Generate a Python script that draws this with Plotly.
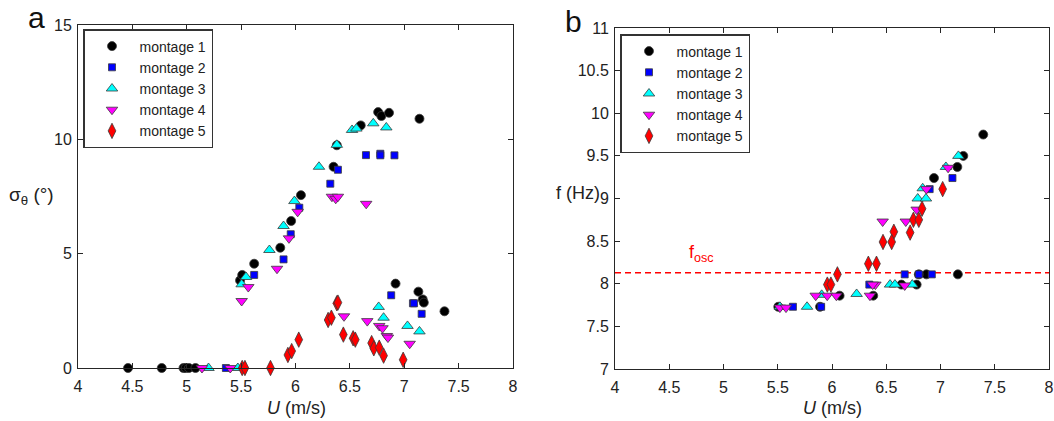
import plotly.graph_objects as go

# ---------------- data: panel a (sigma_theta vs U) ----------------
a1_x = [4.46, 4.77, 4.97, 4.99, 5.02, 5.08, 5.49, 5.51, 5.62, 5.86, 5.96, 6.05, 6.35, 6.38, 6.60, 6.76, 6.79, 6.86, 7.14, 6.92, 7.13, 7.17, 7.18, 7.37]
a1_y = [0, 0, 0, 0, 0, 0, 3.83, 4.07, 4.56, 5.26, 6.43, 7.56, 8.80, 9.74, 10.61, 11.19, 11.02, 11.16, 10.90, 3.69, 3.34, 3.00, 2.86, 2.48]
a2_x = [5.36, 5.62, 5.89, 5.956, 6.035, 6.32, 6.39, 6.648, 6.78, 6.78, 6.91, 6.88, 7.08, 7.09, 7.16]
a2_y = [0, 4.07, 4.75, 5.85, 7.01, 8.06, 8.67, 9.31, 9.37, 9.30, 9.30, 3.18, 2.83, 2.83, 2.37]
a3_x = [5.20, 5.47, 5.505, 5.545, 5.76, 5.89, 5.99, 6.216, 6.38, 6.52, 6.56, 6.715, 6.835, 6.765, 6.81, 7.03, 7.14]
a3_y = [0, 0, 3.66, 3.98, 5.16, 6.21, 7.30, 8.80, 9.76, 10.41, 10.47, 10.70, 10.52, 2.67, 2.20, 1.84, 1.60]
a4_x = [5.14, 5.40, 5.505, 5.566, 5.83, 5.94, 6.02, 6.335, 6.37, 6.39, 6.65, 6.446, 6.66, 6.77, 6.80, 6.84, 6.85, 7.05]
a4_y = [0, 0, 2.93, 3.54, 4.34, 5.67, 6.83, 7.49, 7.40, 7.49, 7.18, 2.26, 2.05, 1.84, 1.74, 1.40, 1.33, 1.06]
a5_x = [5.51, 5.535, 5.77, 5.93, 5.965, 6.03, 6.30, 6.33, 6.38, 6.39, 6.44, 6.53, 6.55, 6.70, 6.72, 6.77, 6.81, 6.99]
a5_y = [0, 0, 0, 0.57, 0.74, 1.24, 2.10, 2.20, 2.83, 2.86, 1.46, 1.30, 1.24, 1.09, 0.86, 0.89, 0.54, 0.36]

# ---------------- data: panel b (f vs U) ----------------
b1_x = [7.394, 7.21, 7.155, 6.94, 7.16, 6.87, 6.80, 6.78, 6.64, 6.38, 6.07, 5.89, 5.505]
b1_y = [9.75, 9.50, 9.37, 9.24, 8.11, 8.11, 8.11, 7.99, 7.99, 7.86, 7.86, 7.73, 7.73]
b2_x = [7.11, 6.90, 6.67, 6.80, 6.92, 6.344, 5.90, 5.64]
b2_y = [9.24, 9.11, 8.11, 8.11, 8.11, 7.99, 7.73, 7.73]
b3_x = [7.165, 7.05, 6.836, 6.79, 6.866, 6.535, 6.58, 6.74, 6.227, 5.905, 5.77, 5.52]
b3_y = [9.50, 9.37, 9.12, 9.00, 9.00, 7.99, 7.99, 7.99, 7.88, 7.87, 7.73, 7.73]
b4_x = [7.07, 6.87, 6.78, 6.68, 6.467, 6.67, 6.40, 6.375, 6.35, 5.85, 5.956, 6.04, 5.52, 5.576]
b4_y = [9.36, 9.11, 8.87, 8.73, 8.73, 7.98, 7.99, 7.99, 7.86, 7.86, 7.86, 7.86, 7.72, 7.72]
b5_x = [7.02, 6.83, 6.75, 6.80, 6.72, 6.57, 6.47, 6.55, 6.335, 6.41, 6.05, 5.957, 5.99]
b5_y = [9.11, 8.88, 8.75, 8.75, 8.60, 8.61, 8.49, 8.49, 8.235, 8.235, 8.11, 7.99, 7.99]

f_osc = 8.13
names = ["montage 1", "montage 2", "montage 3", "montage 4", "montage 5"]
colors = ["#000000", "#0000FF", "#00FFFF", "#FF00FF", "#FF0000"]
symbols = ["circle", "square", "triangle-up", "triangle-down", "diamond-tall"]
sizes = [9, 7, 10, 10, 11]

x_ticks = [4, 4.5, 5, 5.5, 6, 6.5, 7, 7.5, 8]
x_ticklabels = ["4", "4.5", "5", "5.5", "6", "6.5", "7", "7.5", "8"]
ya_ticks = [0, 5, 10, 15]
yb_ticks = [7, 7.5, 8, 8.5, 9, 9.5, 10, 10.5, 11]
yb_ticklabels = ["7", "7.5", "8", "8.5", "9", "9.5", "10", "10.5", "11"]

panel_a = [(a1_x, a1_y), (a2_x, a2_y), (a3_x, a3_y), (a4_x, a4_y), (a5_x, a5_y)]
panel_b = [(b1_x, b1_y), (b2_x, b2_y), (b3_x, b3_y), (b4_x, b4_y), (b5_x, b5_y)]

FONT = "Liberation Sans, Arial, sans-serif"
AX = "#262626"
W, H = 1054, 421

fig = go.Figure()


def add_series(data, xa, ya, leg):
    for (xs, ys), n, c, s, sz in zip(data, names, colors, symbols, sizes):
        fig.add_trace(go.Scatter(
            x=xs, y=ys, mode="markers", name=n, xaxis=xa, yaxis=ya, legend=leg,
            cliponaxis=False,
            marker=dict(symbol=s, size=sz, color=c, line=dict(color="#3a3a3a", width=0.8)),
        ))


add_series(panel_a, "x", "y", "legend")
fig.add_trace(go.Scatter(x=[4, 8], y=[f_osc, f_osc], mode="lines", xaxis="x2", yaxis="y2",
                         showlegend=False, line=dict(color="#FF0000", width=1.5, dash="6px,4px")))
add_series(panel_b, "x2", "y2", "legend2")

axis_common = dict(showline=True, linecolor=AX, linewidth=1, mirror="ticks", ticks="inside",
                   ticklen=5, tickcolor=AX, showgrid=False, zeroline=False, automargin=False,
                   tickfont=dict(family=FONT, size=16, color="#222"))


def px_x(p):
    return p / W


def px_y(p):
    return (H - p) / H


def ann(text, x, y, size, color="#222", xref="paper", yref="paper"):
    return dict(text=text, x=x, y=y, xref=xref, yref=yref, xanchor="center", yanchor="middle",
                showarrow=False, font=dict(family=FONT, size=size, color=color))


legend_common = dict(xanchor="left", yanchor="top", bgcolor="white", bordercolor="#333333", borderwidth=1.5,
                     itemwidth=45, font=dict(family=FONT, size=14, color="#222"))

fig.update_layout(
    width=W, height=H,
    margin=dict(l=0, r=0, t=0, b=0, pad=0),
    paper_bgcolor="white", plot_bgcolor="white",
    font=dict(family=FONT, size=15, color="#222"),
    xaxis=dict(domain=[px_x(78), px_x(513)], range=[4, 8], tickvals=x_ticks, ticktext=x_ticklabels,
               anchor="y", ticklabelstandoff=4, **axis_common),
    yaxis=dict(domain=[px_y(368), px_y(25)], range=[0, 15], tickvals=ya_ticks, anchor="x",
               ticklabelstandoff=2, **axis_common),
    xaxis2=dict(domain=[px_x(615), px_x(1049)], range=[4, 8], tickvals=x_ticks, ticktext=x_ticklabels,
                anchor="y2", ticklabelstandoff=4, **axis_common),
    yaxis2=dict(domain=[px_y(369), px_y(28)], range=[7, 11], tickvals=yb_ticks, ticktext=yb_ticklabels,
                anchor="x2", ticklabelstandoff=2, **axis_common),
    legend=dict(x=px_x(83), y=px_y(29), **legend_common),
    legend2=dict(x=px_x(620), y=px_y(34), **legend_common),
    annotations=[
        ann("a", px_x(36), px_y(17), 30, "#111"),
        ann("b", px_x(573), px_y(21), 30, "#111"),
        ann("σ<sub>θ</sub> (°)", px_x(31), px_y(196), 19),
        ann("f (Hz)", px_x(578), px_y(193), 18),
        ann("<i>U</i> (m/s)", px_x(296), px_y(408), 18),
        ann("<i>U</i> (m/s)", px_x(832), px_y(408), 18),
        ann("f<sub>osc</sub>", 4.80, 8.36, 18, "#FF0000", "x2", "y2"),
    ],
)

fig.write_html("out.html", config={"displayModeBar": False},
               post_script="document.body.style.margin='0';document.body.style.overflow='hidden';")
